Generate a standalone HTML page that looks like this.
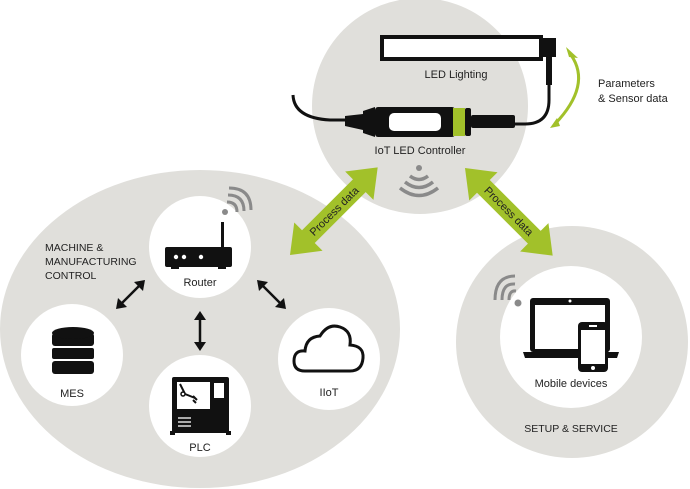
<!DOCTYPE html>
<html><head><meta charset="utf-8"><style>
html,body{margin:0;padding:0;background:#fff;}
svg{display:block;font-family:"Liberation Sans",sans-serif;}
</style></head><body>
<svg width="690" height="489" viewBox="0 0 690 489" xmlns="http://www.w3.org/2000/svg">
<!-- backgrounds -->
<ellipse cx="200" cy="329" rx="200" ry="159" fill="#e0dfdb"/>
<circle cx="420" cy="106" r="108" fill="#e0dfdb"/>
<circle cx="572" cy="342" r="116" fill="#e0dfdb"/>

<!-- white circles -->
<circle cx="200" cy="247" r="51" fill="#fff"/>
<circle cx="72" cy="355" r="51" fill="#fff"/>
<circle cx="200" cy="406" r="51" fill="#fff"/>
<circle cx="329" cy="359" r="51" fill="#fff"/>
<circle cx="571" cy="337" r="71" fill="#fff"/>

<!-- green arrows -->
<g fill="#a2c12a">
  <polygon points="0,0 26,-20 26,-9 98,-9 98,-20 124,0 98,20 98,9 26,9 26,20" transform="translate(290,255) rotate(-45)"/>
  <polygon points="0,0 26,-20 26,-9 98,-9 98,-20 124,0 98,20 98,9 26,9 26,20" transform="translate(465,168) rotate(45)"/>
</g>
<text transform="translate(334,211) rotate(-45)" font-size="11" text-anchor="middle" dy="4" fill="#222">Process data</text>
<text transform="translate(509,211) rotate(45)" font-size="11" text-anchor="middle" dy="4" fill="#222">Process data</text>

<!-- LED lighting -->
<rect x="382" y="37" width="159" height="22" fill="#fff" stroke="#111" stroke-width="4"/>
<rect x="542" y="38" width="14" height="19" fill="#111"/>
<rect x="546" y="57" width="6" height="6" fill="#111"/>
<rect x="546" y="63" width="6" height="22" fill="#111"/>
<path d="M549,85 L549,100 Q549,124 525,124 L514,124" fill="none" stroke="#111" stroke-width="3"/>
<text x="456" y="78" font-size="11" text-anchor="middle" fill="#222">LED Lighting</text>

<!-- controller -->
<path d="M293,95 Q294,118 330,120 L350,120" fill="none" stroke="#111" stroke-width="3"/>
<polygon points="345,116 363,114 363,130 345,126" fill="#111"/>
<polygon points="363,111 375,107 375,137 363,133" fill="#111"/>
<rect x="375" y="107" width="80" height="30" rx="3" fill="#111"/>
<rect x="389" y="113" width="52" height="18" rx="5" fill="#fff"/>
<rect x="453" y="108" width="12" height="28" fill="#a2c12a"/>
<rect x="465" y="108" width="6" height="28" rx="2" fill="#111"/>
<rect x="471" y="115" width="44" height="13" rx="2" fill="#111"/>
<text x="420" y="154" font-size="11" text-anchor="middle" fill="#222">IoT LED Controller</text>

<!-- wifi under controller -->
<g fill="none" stroke="#8a8a8a" stroke-width="3.5">
  <path d="M410,176 Q419,183 428,176"/>
  <path d="M405,182 Q419,193 433,182"/>
  <path d="M400,188 Q419,203 438,188"/>
</g>
<circle cx="419" cy="168" r="3" fill="#8a8a8a"/>

<!-- Parameters arrow -->
<path d="M571,55 Q592,85 555,124" fill="none" stroke="#a2c12a" stroke-width="3"/>
<polygon points="566,47 578,58 569,57" fill="#a2c12a"/>
<polygon points="550,128 557,118 560,126" fill="#a2c12a"/>
<text x="598" y="87" font-size="11" fill="#222">Parameters</text>
<text x="598" y="102" font-size="11" fill="#222">&amp; Sensor data</text>

<!-- left labels -->
<text x="45" y="251" font-size="10.5" fill="#222">MACHINE &amp;</text>
<text x="45" y="265" font-size="10.5" fill="#222">MANUFACTURING</text>
<text x="45" y="279" font-size="10.5" fill="#222">CONTROL</text>

<!-- router -->
<rect x="165" y="247" width="67" height="20" rx="2" fill="#111"/>
<rect x="171" y="266" width="8" height="3" fill="#111"/><rect x="218" y="266" width="8" height="3" fill="#111"/>
<rect x="221" y="222" width="3" height="26" fill="#111"/>
<circle cx="176" cy="257" r="2.2" fill="#fff"/><circle cx="184" cy="257" r="2.2" fill="#fff"/><circle cx="201" cy="257" r="2.2" fill="#fff"/>
<circle cx="225" cy="212" r="3" fill="#8a8a8a"/>
<g fill="none" stroke="#8a8a8a" stroke-width="3">
  <path d="M227,202 Q237,202 237,212"/>
  <path d="M228,195 Q244,195 244,211"/>
  <path d="M229,188 Q251,188 251,210"/>
</g>
<text x="200" y="286" font-size="11" text-anchor="middle" fill="#222">Router</text>

<!-- double arrows black -->
<g stroke="#111" stroke-width="2.5" fill="#111">
  <line x1="122" y1="303" x2="140" y2="285"/>
  <line x1="200" y1="318" x2="200" y2="344"/>
  <line x1="262" y1="285" x2="280" y2="303"/>
</g>
<g fill="#111">
  <polygon points="116,309 118,298 127,307"/>
  <polygon points="145,280 134,282 143,291"/>
  <polygon points="200,311 194,320 206,320"/>
  <polygon points="200,351 194,342 206,342"/>
  <polygon points="257,280 259,291 268,282"/>
  <polygon points="286,309 275,307 284,298"/>
</g>

<!-- MES -->
<g fill="#111">
  <rect x="52" y="333" width="42" height="13" rx="3"/>
  <rect x="52" y="348" width="42" height="11" rx="2"/>
  <rect x="52" y="361" width="42" height="13" rx="3"/>
  <ellipse cx="73" cy="333" rx="21" ry="6"/>
</g>
<text x="72" y="397" font-size="11" text-anchor="middle" fill="#222">MES</text>

<!-- PLC -->
<rect x="172" y="377" width="57" height="56" rx="2" fill="#111"/>
<rect x="170" y="431" width="5" height="4" fill="#111"/><rect x="226" y="431" width="5" height="4" fill="#111"/>
<rect x="177" y="382" width="33" height="27" fill="#fff"/>
<rect x="214" y="383" width="10" height="15" fill="#fff"/>
<g stroke="#111" stroke-width="2" fill="none">
  <path d="M180,384 L185,394 L195,398"/>
  <path d="M193,396 L197,400 M193,400 L196,403"/>
</g>
<circle cx="183" cy="394" r="2" fill="#fff" stroke="#111" stroke-width="1.5"/>
<g stroke="#fff" stroke-width="1.3"><line x1="178" y1="418" x2="191" y2="418"/><line x1="178" y1="422" x2="191" y2="422"/><line x1="178" y1="426" x2="191" y2="426"/></g>
<text x="200" y="451" font-size="11" text-anchor="middle" fill="#222">PLC</text>

<!-- IIoT cloud -->
<path d="M305,371 Q294,371 294,361 Q294,350 305,351 Q306,337 320,336 Q328,323 340,327 Q352,331 350,345 Q364,346 363,358 Q362,371 350,371 Z" fill="none" stroke="#111" stroke-width="3"/>
<text x="329" y="396" font-size="11" text-anchor="middle" fill="#222">IIoT</text>

<!-- mobile devices -->
<rect x="530" y="298" width="80" height="54" rx="3" fill="#111"/>
<rect x="535" y="305" width="70" height="44" fill="#fff"/>
<circle cx="570" cy="301" r="1.5" fill="#fff"/>
<path d="M523,352 L619,352 L617,358 L525,358 Z" fill="#111"/>
<rect x="578" y="322" width="30" height="50" rx="4" fill="#111"/>
<rect x="581" y="330" width="24" height="34" fill="#fff"/>
<circle cx="593" cy="368" r="2" fill="#fff"/>
<rect x="589" y="325" width="8" height="2" fill="#fff"/>
<circle cx="518" cy="303" r="3.5" fill="#8a8a8a"/>
<g fill="none" stroke="#8a8a8a" stroke-width="3">
  <path d="M509,300 Q509,290 516,291"/>
  <path d="M502,300 Q502,283 515,284"/>
  <path d="M495,300 Q495,276 515,276"/>
</g>
<text x="571" y="387" font-size="11" text-anchor="middle" fill="#222">Mobile devices</text>
<text x="571" y="432" font-size="10.5" text-anchor="middle" fill="#222">SETUP &amp; SERVICE</text>
</svg>
</body></html>
